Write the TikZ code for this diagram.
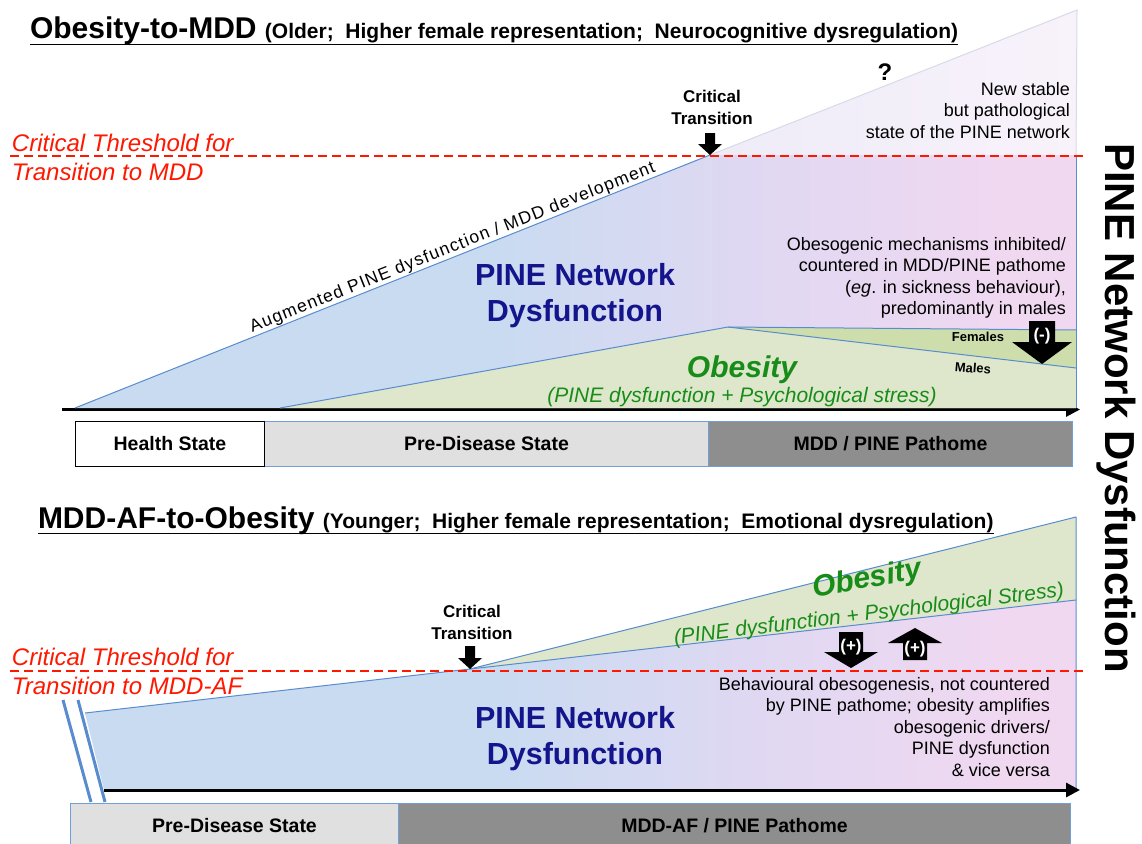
\documentclass[tikz,border=0pt]{standalone}
\usepackage{fontspec}
\setmainfont{Liberation Sans}
\usetikzlibrary{arrows.meta}

\definecolor{pblue}{RGB}{201,219,241}
\definecolor{plav}{RGB}{224,216,242}
\definecolor{ppink}{RGB}{241,216,241}
\definecolor{fadeL}{RGB}{238,236,248}
\definecolor{fadeR}{RGB}{248,242,250}
\definecolor{fadeedge}{RGB}{214,219,232}
\definecolor{greenL}{RGB}{222,231,203}
\definecolor{greenD}{RGB}{205,222,172}
\definecolor{lineblue}{RGB}{88,140,206}
\definecolor{boxblue}{RGB}{112,160,216}
\definecolor{threshred}{RGB}{255,24,0}
\definecolor{pinenavy}{RGB}{20,20,140}
\definecolor{obgreen}{RGB}{24,140,24}
\definecolor{boxlight}{RGB}{224,224,224}
\definecolor{boxdark}{RGB}{142,142,142}

\pgfdeclarehorizontalshading{pineshade}{100bp}{color(0bp)=(pblue); color(46bp)=(pblue); color(59bp)=(plav); color(72bp)=(ppink); color(100bp)=(ppink)}

\newcommand\fsz[2]{\fontsize{#1}{#2}\selectfont}

\tikzset{
  outline/.style={draw=lineblue, line width=1pt, line join=round},
  threshold/.style={draw=threshred, line width=2.4pt, dash pattern=on 9pt off 5pt},
  timeline/.style={line width=3pt, -{Triangle[length=14pt,width=14pt]}},
  breakmark/.style={draw=lineblue, line width=3pt},
  txt/.style={inner sep=0pt, outer sep=0pt},
  redlbl/.style={txt, text=threshred, font=\fsz{24}{29}\itshape, align=left, anchor=north west},
  note/.style={txt, font=\fsz{18}{21.5}, align=right, anchor=north east},
  ctlbl/.style={txt, font=\fsz{17}{21.5}\bfseries, align=center, anchor=north},
  pinelbl/.style={txt, text=pinenavy, font=\fsz{30.5}{36}\bfseries, align=center},
  obeslbl/.style={txt, text=obgreen, font=\fsz{30}{36}\bfseries\itshape},
  obessub/.style={txt, text=obgreen, font=\fsz{21}{25}\itshape},
  sexlbl/.style={txt, font=\fsz{13}{15}\bfseries},
  signlbl/.style={txt, text=white, font=\fsz{17}{20}\bfseries},
  barbox/.style={draw=boxblue, line width=1pt, inner sep=0pt, anchor=north west, font=\fsz{19.5}{24}\bfseries},
  titlelbl/.style={txt, anchor=base west},
  pics/blockarrow/.style args={#1/#2/#3/#4}{code={
     \fill (0,0) -- (-#2,-#4) -- (-#1,-#4) -- (-#1,-#3) -- (#1,-#3) -- (#1,-#4) -- (#2,-#4) -- cycle;}}
}

\begin{document}
\begin{tikzpicture}[x=1pt,y=-1pt]
\useasboundingbox (0,0) rectangle (1142,843);
\clip (0,0) rectangle (1142,843);
\fill[white] (0,0) rectangle (1142,843);

% ================= Obesity-to-MDD =================
\coordinate (a0)  at (75,408);
\coordinate (act) at (710,155);
\coordinate (atr) at (1076,155);
\coordinate (abr) at (1076,408);
\coordinate (apk) at (1077,10);
\coordinate (ag0) at (280,408);
\coordinate (agk) at (728,327);
\coordinate (agf) at (1076,330);
\coordinate (agm) at (1076,368);
\coordinate (tla0) at (62,409.5);
\coordinate (tla1) at (1080,409.5);
\coordinate (tha0) at (10,156);
\coordinate (tha1) at (1085,156);

\draw[timeline] (tla0) -- (tla1);
\shade[shading=pineshade] (a0) -- (act) -- (atr) -- (abr) -- cycle;
\shade[left color=fadeL, right color=fadeR] (act) -- (apk) -- (atr) -- cycle;
\draw[draw=fadeedge, line width=1pt] (act) -- (apk) -- (atr);
\fill[greenL] (ag0) -- (agk) -- (agf) -- (abr) -- cycle;
\fill[greenD] (agk) -- (agf) -- (agm) -- cycle;
\draw[outline] (a0) -- (act);
\draw[outline] (atr) -- (abr);
\draw[outline] (ag0) -- (agk) -- (agf);
\draw[outline] (agk) -- (agm);
\draw[threshold] (tha0) -- (tha1);

\node[barbox, fill=boxlight, minimum width=444, minimum height=45] (prea) at (264,421) {Pre-Disease State};
\node[barbox, fill=boxdark, minimum width=364, minimum height=45] (mdda) at (708,421) {MDD / PINE Pathome};
\node[barbox, draw=black, fill=white, minimum width=189, minimum height=45] (health) at (75,421) {Health State};

\node[titlelbl] (title1) at (30,39) {{\fsz{30}{36}\bfseries Obesity-to-MDD }{\fsz{21}{25}\bfseries (Older;\ \ Higher female representation;\ \ Neurocognitive dysregulation)}};
\draw[line width=1.8pt] ([yshift=-5.5pt]title1.base west) -- ([yshift=-5.5pt]title1.base east);

\node[redlbl] (thra) at (12,134.5) {Critical Threshold for\\Transition to MDD};
\node[ctlbl] (cta) at (712,90.6) {Critical\\Transition};
\pic at (act) {blockarrow=5/12/22/11};
\node[txt, font=\fsz{24}{28}\bfseries] (qm) at (885,72) {?};
\node[note] (stable) at (1070,82) {New stable\\but pathological\\state of the PINE network};
\path (a0) -- (act) node[pos=0.6, sloped, above=1pt, txt, font=\fsz{17.5}{20}\addfontfeature{LetterSpace=7}] (aug) {Augmented PINE dysfunction / MDD development};
\node[pinelbl] (pinea) at (575,296) {PINE Network\\Dysfunction};
\node[note] (obmech) at (1066,237) {Obesogenic mechanisms inhibited/\\countered in MDD/PINE pathome\\(\emph{eg}. in sickness behaviour),\\predominantly in males};
\node[sexlbl] (fem) at (978,337) {Females};
\node[sexlbl, rotate=-5] (mal) at (973,368) {Males};
\pic at (1042,364) {blockarrow=13/30/43/22};
\node[signlbl] (minus) at (1042,336) {(-)};
\node[obeslbl, anchor=base] (obesa) at (742,377) {Obesity};
\node[obessub, anchor=base] (obessuba) at (742,402) {(PINE dysfunction + Psychological stress)};

\node[txt, font=\fsz{42}{48}\bfseries, rotate=-90] (side) at (1116,408) {PINE Network Dysfunction};

% ================= MDD-AF-to-Obesity =================
\coordinate (b0)  at (85,713);
\coordinate (bct) at (470,669);
\coordinate (btr) at (1076,600);
\coordinate (bbr) at (1076,790);
\coordinate (bbl) at (104,790);
\coordinate (bpk) at (1076,517);
\coordinate (bk1a) at (63,700);
\coordinate (bk1b) at (91,802);
\coordinate (bk2a) at (78,700);
\coordinate (bk2b) at (105,802);
\coordinate (tlb0) at (104,790);
\coordinate (tlb1) at (1080,790);
\coordinate (thb0) at (10,671);
\coordinate (thb1) at (1085,671);

\shade[shading=pineshade] (b0) -- (bct) -- (btr) -- (bbr) -- (bbl) -- cycle;
\fill[greenL] (bct) -- (bpk) -- (btr) -- cycle;
\draw[outline] (b0) -- (bct) -- (btr) -- (bbr);
\draw[outline] (bct) -- (bpk) -- (btr);
\draw[breakmark] (bk1a) -- (bk1b);
\draw[breakmark] (bk2a) -- (bk2b);
\draw[timeline] (tlb0) -- (tlb1);
\draw[threshold] (thb0) -- (thb1);

\node[barbox, fill=boxlight, minimum width=328, minimum height=45] (preb) at (70,803) {Pre-Disease State};
\node[barbox, fill=boxdark, minimum width=672, minimum height=45] (mddb) at (398,803) {MDD-AF / PINE Pathome};

\node[titlelbl] (title2) at (38,528) {{\fsz{30}{36}\bfseries MDD-AF-to-Obesity }{\fsz{21}{25}\bfseries (Younger;\ \ Higher female representation;\ \ Emotional dysregulation)}};
\draw[line width=1.8pt] ([yshift=-5.5pt]title2.base west) -- ([yshift=-5.5pt]title2.base east);

\node[redlbl] (thrb) at (12,648.5) {Critical Threshold for\\Transition to MDD-AF};
\node[ctlbl] (ctb) at (472,605.6) {Critical\\Transition};
\pic at (bct) {blockarrow=5/12/23/11};
\node[obeslbl, rotate=10] (obesb) at (867,580) {Obesity};
\node[obessub, rotate=7] (obessubb) at (869,615) {(PINE dysfunction + Psychological Stress)};
\pic at (851,668) {blockarrow=12/27/36/16};
\node[signlbl] (plusd) at (851,647) {(+)};
\pic[rotate=180] at (915,628) {blockarrow=12/27/32/15};
\node[signlbl] (plusu) at (915,649) {(+)};
\node[note] (behav) at (1050,677) {Behavioural obesogenesis, not countered\\by PINE pathome; obesity amplifies\\obesogenic drivers/\\PINE dysfunction\\\& vice versa};
\node[pinelbl] (pineb) at (575,738.5) {PINE Network\\Dysfunction};
\end{tikzpicture}
\end{document}
